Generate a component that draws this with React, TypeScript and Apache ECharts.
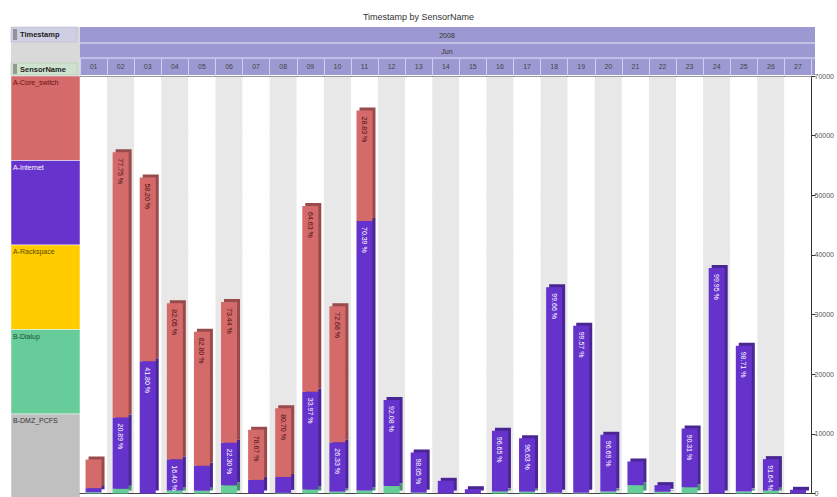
import React, { useEffect, useRef } from "react";
import * as echarts from "echarts";

const title = "Timestamp by SensorName";
const yearLabel = "2008";
const monthLabel = "Jun";
const days = ["01","02","03","04","05","06","07","08","09","10","11","12","13","14","15","16","17","18","19","20","21","22","23","24","25","26","27"];

const sensorNames = ["A-Core_switch", "A-Internet", "A-Rackspace", "B-Dialup", "B-DMZ_PCFS"];
const sensorColors = ["#d46a6a", "#6633cc", "#ffcc00", "#66cc99", "#c0c0c0"];
const sensorTextColors = ["#6b1010", "#ffffff", "#5a4a00", "#1f4f2f", "#333333"];

const coreSwitch = [4800, 44475, 30846, 26174, 22464, 23574, 8410, 11540, 31152, 22807, 18510, 0, 0, 0, 0, 0, 0, 0, 0, 0, 0, 0, 0, 0, 0, 0, 0];
const internet = [700, 11950, 22154, 5232, 4200, 7158, 2280, 2660, 16374, 8263, 45190, 14420, 6746, 2130, 720, 10168, 8967, 34453, 28020, 9524, 3970, 1115, 9844, 37780, 24460, 5281, 620];
const dialup = [200, 780, 0, 494, 466, 1368, 0, 100, 674, 310, 500, 1240, 134, 0, 0, 352, 313, 117, 120, 326, 1400, 285, 1056, 20, 320, 482, 0];

const yMax = 70000;
const yStep = 10000;

const totals = days.map((_, i) => coreSwitch[i] + internet[i] + dialup[i]);

const FONT = "Liberation Sans, Arial, sans-serif";

function pctLabel(p: any) {
  const v = p.value as number;
  if (v < 5000) return "";
  return ((v / totals[p.dataIndex]) * 100).toFixed(2) + " %";
}

function darker(c: string, f: number) {
  const n = parseInt(c.slice(1), 16);
  const r = Math.round(((n >> 16) & 255) * f);
  const g = Math.round(((n >> 8) & 255) * f);
  const b = Math.round((n & 255) * f);
  return `rgb(${r},${g},${b})`;
}

function barSeries(name: string, data: number[], color: string, labelColor: string) {
  return {
    name,
    type: "bar",
    stack: "total",
    xAxisIndex: 0,
    barWidth: 16,
    data,
    itemStyle: {
      color,
      shadowColor: darker(color, 0.72),
      shadowOffsetX: 3,
      shadowOffsetY: -3,
      shadowBlur: 0,
    },
    label: {
      show: true,
      position: "insideTop",
      rotate: -90,
      align: "left",
      verticalAlign: "middle",
      distance: 6,
      fontSize: 7,
      fontFamily: FONT,
      color: labelColor,
      formatter: pctLabel,
    },
  };
}

export default function App() {
  const ref = useRef<HTMLDivElement>(null);
  useEffect(() => {
    if (!ref.current) return;
    const chart = echarts.init(ref.current, null, { renderer: "svg" });

    const legendTop = 76;
    const legendH = 84.5;
    const legendGraphics: any[] = [];
    sensorNames.forEach((n, i) => {
      legendGraphics.push({
        type: "rect",
        shape: { x: 11, y: legendTop + i * legendH, width: 69, height: legendH + (i === 4 ? 5 : 0) },
        style: { fill: sensorColors[i], stroke: "#ffffff", lineWidth: 0.5 },
      });
      legendGraphics.push({
        type: "text",
        x: 13,
        y: legendTop + i * legendH + 3,
        style: { text: n, fontSize: 7, fontFamily: FONT, fill: sensorTextColors[i] },
      });
    });

    const option: any = {
      animation: false,
      backgroundColor: "#ffffff",
      title: {
        text: title,
        left: "center",
        top: 7,
        textStyle: { fontSize: 9, fontWeight: "normal", color: "#333", fontFamily: FONT },
      },
      grid: { left: 80, right: 22, top: 76, bottom: 1, containLabel: false },
      xAxis: [
        {
          type: "category",
          data: days,
          position: "bottom",
          axisLine: { show: true, lineStyle: { color: "#444", width: 1 } },
          axisTick: { show: false },
          axisLabel: { show: false },
          splitArea: { show: true, areaStyle: { color: ["#ffffff", "#e8e8e8"] } },
        },
        {
          type: "category",
          data: days,
          position: "top",
          axisLine: { show: true, lineStyle: { color: "#999", width: 1 } },
          axisTick: { show: true, length: 17, inside: false, lineStyle: { color: "#d0d0ec" } },
          axisLabel: { show: true, fontSize: 7, color: "#444", margin: 6, fontFamily: FONT },
        },
      ],
      yAxis: {
        type: "value",
        position: "right",
        min: 0,
        max: yMax,
        interval: yStep,
        axisLine: { show: true, lineStyle: { color: "#333" } },
        axisTick: { show: true, length: 4, lineStyle: { color: "#333" } },
        axisLabel: { fontSize: 7, color: "#555", margin: 3, fontFamily: FONT, formatter: (v: number) => String(v) },
        splitLine: { show: true, lineStyle: { color: "#c4c4c4" } },
      },
      graphic: [
        { type: "rect", shape: { x: 80, y: 27, width: 735, height: 48 }, style: { fill: "#9c99d2" }, z: -1 },
        { type: "line", shape: { x1: 80, y1: 43, x2: 815, y2: 43 }, style: { stroke: "#e4e4f6", lineWidth: 1 } },
        { type: "line", shape: { x1: 80, y1: 58, x2: 815, y2: 58 }, style: { stroke: "#e4e4f6", lineWidth: 1 } },
        { type: "text", x: 447, y: 35, style: { text: yearLabel, fontSize: 7, fill: "#333", fontFamily: FONT, align: "center", verticalAlign: "middle" } },
        { type: "text", x: 447, y: 51, style: { text: monthLabel, fontSize: 7, fill: "#333", fontFamily: FONT, align: "center", verticalAlign: "middle" } },
        { type: "rect", shape: { x: 11, y: 27, width: 69, height: 49 }, style: { fill: "#d9d9d9" } },
        { type: "rect", shape: { x: 11, y: 27, width: 66, height: 15 }, style: { fill: "#cfcfe4", stroke: "#b0b0c8", lineWidth: 0.5 } },
        { type: "line", shape: { x1: 14, y1: 29, x2: 14, y2: 40 }, style: { stroke: "#555", lineWidth: 1 } },
        { type: "line", shape: { x1: 16, y1: 29, x2: 16, y2: 40 }, style: { stroke: "#555", lineWidth: 1 } },
        { type: "text", x: 20, y: 34.5, style: { text: "Timestamp", fontSize: 7.5, fontWeight: "bold", fill: "#222", fontFamily: FONT, verticalAlign: "middle" } },
        { type: "rect", shape: { x: 11, y: 63, width: 66, height: 12 }, style: { fill: "#cfe2cf", stroke: "#a8c0a8", lineWidth: 0.5 } },
        { type: "line", shape: { x1: 14, y1: 64, x2: 14, y2: 74 }, style: { stroke: "#555", lineWidth: 1 } },
        { type: "line", shape: { x1: 16, y1: 64, x2: 16, y2: 74 }, style: { stroke: "#555", lineWidth: 1 } },
        { type: "text", x: 20, y: 69.5, style: { text: "SensorName", fontSize: 7.5, fontWeight: "bold", fill: "#222", fontFamily: FONT, verticalAlign: "middle" } },
        ...legendGraphics,
      ],
      series: [
        barSeries(sensorNames[3], dialup, sensorColors[3], "#1f4f2f"),
        barSeries(sensorNames[1], internet, sensorColors[1], "#ffffff"),
        barSeries(sensorNames[0], coreSwitch, sensorColors[0], "#4a1010"),
      ],
    };
    chart.setOption(option);
    return () => chart.dispose();
  }, []);
  return (
    <div
      ref={ref}
      style={{ position: "absolute", left: 0, top: 0, width: 837, height: 497 }}
    />
  );
}
